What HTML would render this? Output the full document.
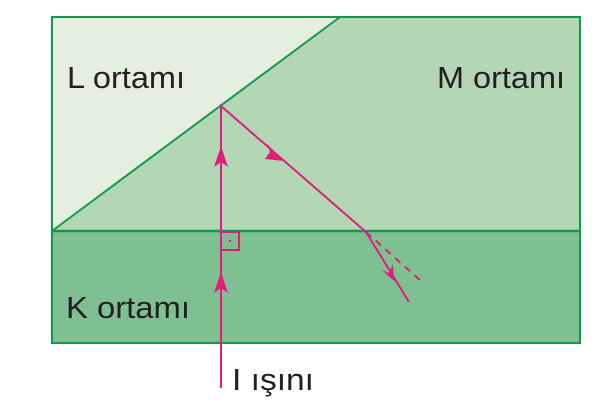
<!DOCTYPE html>
<html><head><style>body{margin:0;background:#fff}svg{display:block}</style></head><body>
<svg width="614" height="404" viewBox="0 0 614 404" xmlns="http://www.w3.org/2000/svg" font-family="Liberation Sans, sans-serif">
<rect x="52" y="17" width="528" height="326" fill="#b3d6b5"/>
<polygon points="52,17 340,17 52,231" fill="#e5efe0"/>
<rect x="52" y="231" width="528" height="112" fill="#7fc093"/>
<line x1="52" y1="231" x2="340" y2="17" stroke="#119a4e" stroke-width="2"/>
<line x1="52" y1="231" x2="580" y2="231" stroke="#119a4e" stroke-width="2.5"/>
<rect x="52" y="17" width="528" height="326" fill="none" stroke="#119a4e" stroke-width="2"/>
<g stroke="#dd1f7a" stroke-width="2" fill="none">
<polyline points="221,388 221,106 366,232 409,302"/>
<line x1="366" y1="232" x2="421" y2="281" stroke-dasharray="7,6"/>
<rect x="221" y="232" width="18" height="18"/>
</g>
<circle cx="230" cy="241" r="1.2" fill="#dd1f7a"/>
<g fill="#dd1f7a">
<polygon points="221,146 214,167 221,162 228,167"/>
<polygon points="221,272 214,293 221,288 228,293"/>
<polygon points="284,161 267,144 270,152 265,159"/>
<polygon points="394,281 382,270 389,273 393,264"/>
</g>
<g font-size="31" fill="#231f20">
<text x="67" y="88" textLength="118" lengthAdjust="spacingAndGlyphs">L ortamı</text>
<text x="437" y="88" textLength="128" lengthAdjust="spacingAndGlyphs">M ortamı</text>
<text x="66" y="318" textLength="124" lengthAdjust="spacingAndGlyphs">K ortamı</text>
<text x="232" y="390" textLength="82" lengthAdjust="spacingAndGlyphs">I ışını</text>
</g>
</svg>
</body></html>
